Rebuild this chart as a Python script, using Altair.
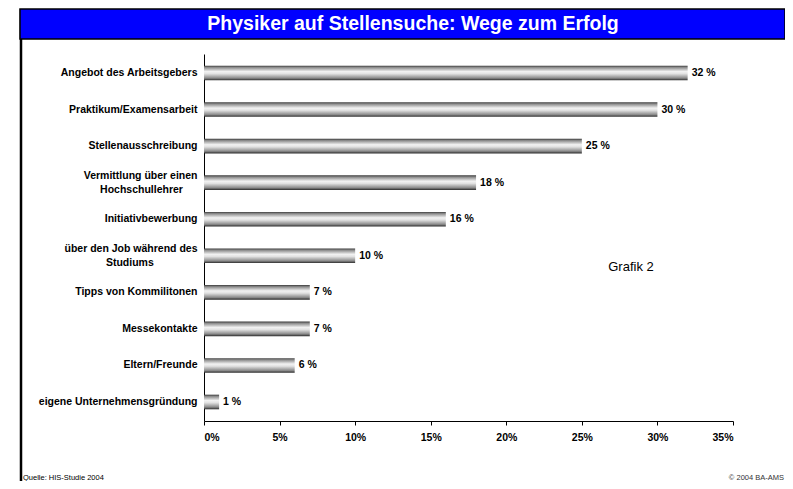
import altair as alt
import pandas as pd

# non-breaking spaces closed by a zero-width space so the padding survives trimming
NB = "\u00a0"
ZW = "\u200b"
categories = [
    "Angebot des Arbeitsgebers",
    "Praktikum/Examensarbeit",
    "Stellenausschreibung",
    "Vermittlung über einen|Hochschullehrer" + NB * 5 + ZW,
    "Initiativbewerbung",
    "über den Job während des|Studiums" + NB * 15 + ZW,
    "Tipps von Kommilitonen",
    "Messekontakte",
    "Eltern/Freunde",
    "eigene Unternehmensgründung",
]
values = [32, 30, 25, 18, 16, 10, 7, 7, 6, 1]
x_ticks = [0, 5, 10, 15, 20, 25, 30, 35]

title_text = "Physiker auf Stellensuche: Wege zum Erfolg"
source_text = "Quelle: HIS-Studie 2004"
copyright_text = "© 2004  BA-AMS"
grafik_text = "Grafik 2"

df = pd.DataFrame({"cat": categories, "val": values})
df["label"] = df["val"].astype(str) + " %"

FONT = "Liberation Sans"
FS = 10.5

grad = alt.Gradient(
    gradient="linear",
    x1=0, x2=0, y1=0, y2=1,
    stops=[
        alt.GradientStop(color="#3a3a3a", offset=0),
        alt.GradientStop(color="#8c8c8c", offset=0.12),
        alt.GradientStop(color="#f2f2f2", offset=0.4),
        alt.GradientStop(color="#e2e2e2", offset=0.55),
        alt.GradientStop(color="#8a8a8a", offset=0.85),
        alt.GradientStop(color="#2a2a2a", offset=1),
    ],
)

yenc = alt.Y(
    "cat:N",
    sort=categories,
    scale=alt.Scale(paddingInner=0.6, paddingOuter=0.32),
    axis=alt.Axis(
        title=None,
        ticks=False,
        domainColor="black",
        domainWidth=1,
        labelExpr="split(datum.label, '|')",
        labelFont=FONT,
        labelFontWeight="bold",
        labelFontSize=FS,
        labelColor="black",
        labelPadding=7,
        labelLineHeight=14,
        labelLimit=300,
        labelOffset={"condition": {"test": "indexof(datum.value, '|') >= 0", "value": -7}, "value": 0},
    ),
)
xenc = alt.X(
    "val:Q",
    scale=alt.Scale(domain=[0, 35], nice=False),
    axis=alt.Axis(
        title=None,
        values=x_ticks,
        grid=False,
        labelExpr="datum.value + '%'",
        labelFont=FONT,
        labelFontWeight="bold",
        labelFontSize=FS,
        labelColor="black",
        domainColor="black",
        tickColor="black",
        tickSize=4,
        labelPadding=7,
    ),
)

bars = alt.Chart(df).mark_bar(color=grad).encode(x=xenc, y=yenc)
labels = alt.Chart(df).mark_text(
    align="left", baseline="middle", dx=4, font=FONT, fontWeight="bold", fontSize=FS, color="black"
).encode(x="val:Q", y=alt.Y("cat:N", sort=categories), text="label:N")

one = pd.DataFrame({"t": [title_text], "s": [source_text], "c": [copyright_text], "g": [grafik_text]})
box = alt.Chart(one).mark_rect(fill="#0000FF", stroke="black", strokeWidth=1.5).encode(
    x=alt.value(-184), x2=alt.value(581), y=alt.value(-45), y2=alt.value(-15)
)
title = alt.Chart(one).mark_text(
    font=FONT, fontWeight="bold", fontSize=19.5, color="white", align="center", baseline="middle"
).encode(x=alt.value(209), y=alt.value(-30), text="t:N")
frame = alt.Chart(one).mark_rule(color="black", strokeWidth=2.5).encode(
    x=alt.value(-183), y=alt.value(-45), y2=alt.value(427)
)
grafik = alt.Chart(one).mark_text(
    font=FONT, fontSize=13, color="black", align="center", baseline="middle"
).encode(x=alt.value(427), y=alt.value(213), text="g:N")
source = alt.Chart(one).mark_text(
    font=FONT, fontSize=7.5, color="black", align="left", baseline="alphabetic"
).encode(x=alt.value(-181), y=alt.value(426), text="s:N")
copy = alt.Chart(one).mark_text(
    font=FONT, fontSize=7.5, color="#333333", align="right", baseline="alphabetic"
).encode(x=alt.value(580), y=alt.value(426), text="c:N")

chart = alt.layer(frame, box, title, bars, labels, grafik, source, copy).properties(
    width=529,
    height=367,
    autosize=alt.AutoSizeParams(type="none"),
    padding={"left": 196, "top": 46, "right": 52, "bottom": 60},
    background="white",
).configure_view(stroke=None)

chart.save("out.html", embed_options={"renderer": "svg", "actions": False})
